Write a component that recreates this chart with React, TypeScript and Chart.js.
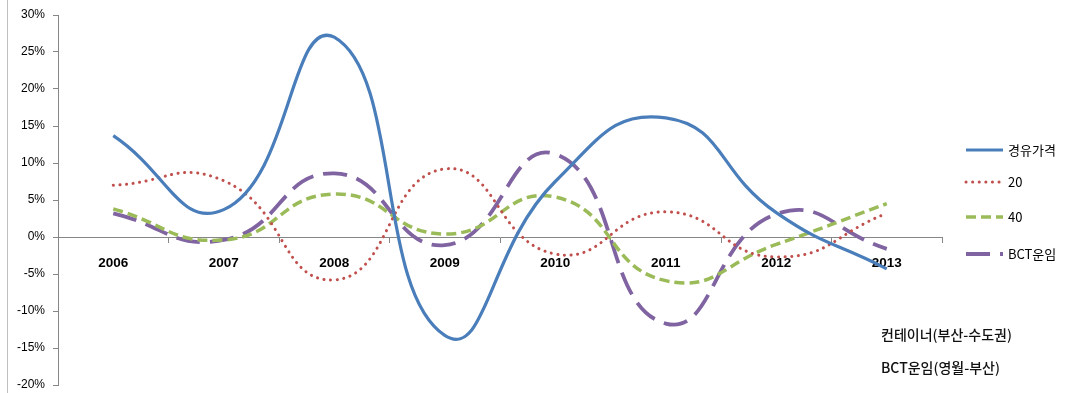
import React, { useEffect, useRef } from "react";
import { Chart, registerables } from "chart.js";

Chart.register(...registerables);

const years = ["2006", "2007", "2008", "2009", "2010", "2011", "2012", "2013"];
const dieselPrice = [13.7, 3.7, 27.0, -13.3, 7.5, 16.1, 3.3, -4.3];
const rate20 = [7.0, 7.6, -5.8, 9.2, -2.3, 3.4, -2.7, 3.2];
const rate40 = [3.8, -0.4, 5.8, 0.4, 5.4, -5.9, -1.0, 4.5];
const bctRate = [3.2, -0.4, 8.6, -1.1, 11.2, -11.7, 3.1, -1.6];
const seriesNames = ["경유가격", "20", "40", "BCT운임"];
const noteLines = ["컨테이너(부산-수도권)", "BCT운임(영월-부산)"];
const yTicks = [-20, -15, -10, -5, 0, 5, 10, 15, 20, 25, 30];

const colors = ["#4A7EBB", "#C0504D", "#9BBB59", "#8064A2"];
const dashes: number[][] = [[], [0.1, 6.5], [10, 5], [24, 10]];
const widths = [3.2, 3, 3.5, 3.8];

const extrasPlugin = {
  id: "extras",
  afterDraw(chart: any) {
    const ctx = chart.ctx;
    ctx.save();
    ctx.strokeStyle = "#BFBFBF";
    ctx.lineWidth = 1;
    ctx.beginPath();
    ctx.moveTo(7.5, 0);
    ctx.lineTo(7.5, chart.height);
    ctx.stroke();

    const legendY = [150, 182, 217, 254];
    seriesNames.forEach((name, i) => {
      const y = legendY[i];
      ctx.strokeStyle = colors[i];
      ctx.lineWidth = widths[i];
      ctx.lineCap = i === 1 ? "round" : "butt";
      ctx.setLineDash(dashes[i]);
      ctx.beginPath();
      ctx.moveTo(966, y);
      ctx.lineTo(1003, y);
      ctx.stroke();
      ctx.setLineDash([]);
      ctx.fillStyle = "#000";
      ctx.font = "13px 'Noto Sans CJK KR', 'Liberation Sans', sans-serif";
      ctx.textBaseline = "middle";
      ctx.textAlign = "left";
      ctx.fillText(name, 1008, y);
    });

    ctx.font = "500 14px 'Noto Sans CJK KR', 'Liberation Sans', sans-serif";
    ctx.fillStyle = "#111";
    ctx.textBaseline = "middle";
    ctx.fillText(noteLines[0], 881, 335);
    ctx.fillText(noteLines[1], 881, 368);
    ctx.restore();
  },
};

export default function App() {
  const ref = useRef<HTMLCanvasElement>(null);
  useEffect(() => {
    if (!ref.current) return;
    const allSeries = [dieselPrice, rate20, rate40, bctRate];
    const chart = new Chart(ref.current, {
      type: "line",
      data: {
        labels: years,
        datasets: allSeries.map((d, i) => ({
          label: seriesNames[i],
          data: d,
          borderColor: colors[i],
          backgroundColor: colors[i],
          borderWidth: widths[i],
          borderDash: dashes[i],
          borderCapStyle: i === 1 ? "round" : "butt",
          pointRadius: 0,
          tension: 0.5,
          fill: false,
        })),
      },
      options: {
        animation: false,
        responsive: false,
        maintainAspectRatio: false,
        layout: { padding: { top: 15, bottom: 8, left: 0, right: 126 } },
        plugins: {
          legend: { display: false },
          tooltip: { enabled: false },
        },
        scales: {
          x: {
            type: "category",
            position: { y: 0 } as any,
            offset: true,
            grid: {
              offset: true,
              drawOnChartArea: false,
              drawTicks: true,
              tickLength: 5,
              color: "#868686",
            },
            border: { display: true, color: "#868686", width: 1 },
            ticks: {
              color: "#000",
              padding: 13,
              font: { family: "'Liberation Sans', sans-serif", size: 13.5, weight: "bold" },
              maxRotation: 0,
            },
          },
          y: {
            min: -20,
            max: 30,
            afterFit: (s: any) => {
              s.width = 58;
              s.paddingTop = 0;
              s.paddingBottom = 0;
            },
            afterBuildTicks: (s: any) => {
              s.ticks = yTicks.map((v) => ({ value: v }));
            },
            grid: {
              drawOnChartArea: false,
              drawTicks: true,
              tickLength: 5,
              color: "#868686",
            },
            border: { display: true, color: "#868686", width: 1 },
            ticks: {
              color: "#000",
              padding: 8,
              font: { family: "'Liberation Sans', sans-serif", size: 12 },
              callback: (v: any) => `${v}%`,
            },
          },
        },
      },
      plugins: [extrasPlugin],
    });
    return () => chart.destroy();
  }, []);
  return (
    <div style={{ position: "absolute", left: 0, top: 0, width: 1068, height: 393, background: "#fff" }}>
      <canvas ref={ref} width={1068} height={393} style={{ width: 1068, height: 393 }} />
    </div>
  );
}
